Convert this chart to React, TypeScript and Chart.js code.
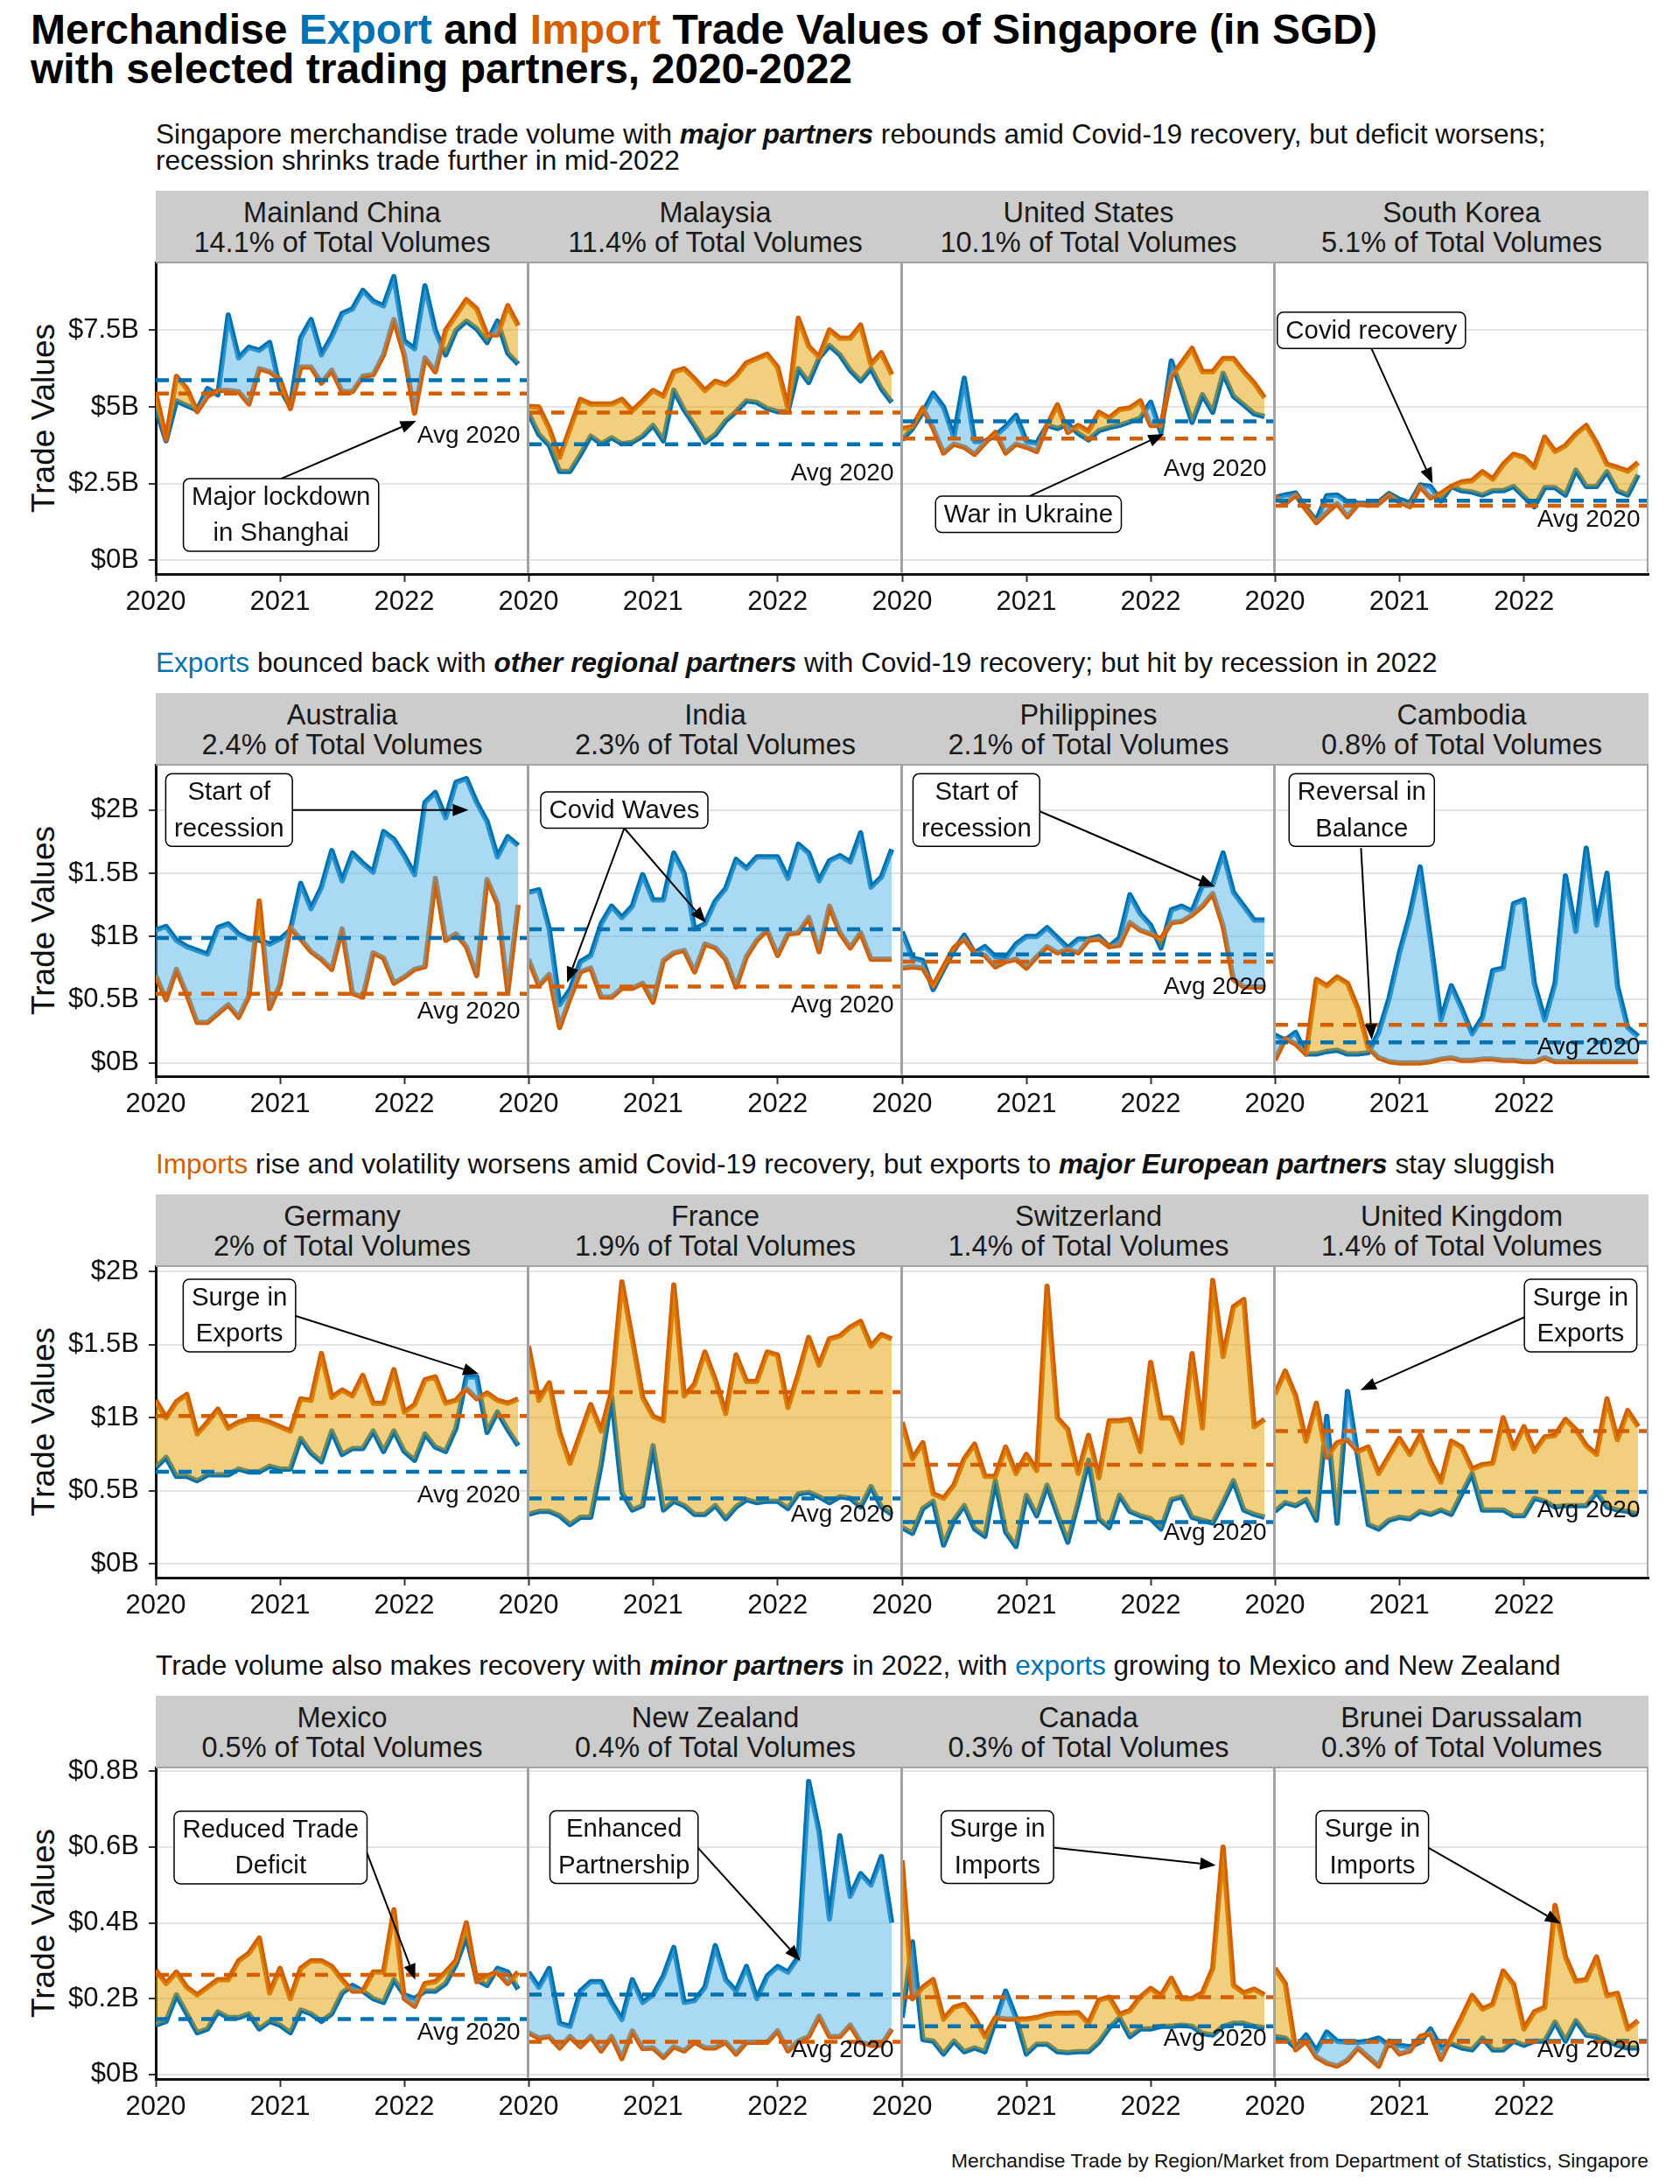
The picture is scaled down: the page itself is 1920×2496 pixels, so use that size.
import React, { useEffect, useRef } from 'react';
import { Chart, registerables } from 'chart.js';

Chart.register(...registerables);

const FONT = '"Liberation Sans", Arial, Helvetica, sans-serif';
const BLUE = '#0072B2';
const ORANGE = '#D55E00';
const BLUE_FILL = 'rgba(86,180,233,0.5)';
const ORANGE_FILL = 'rgba(230,159,0,0.5)';
const TEXT = '#111111';

// ---------- axes ----------
const yearTickMonths = [0, 12, 24];
const yearTickLabels = ['2020', '2021', '2022'];
const yTicksMajor = [0, 2.5, 5, 7.5];
const yTicksRegional = [0, 0.5, 1, 1.5, 2];
const yTicksEurope = [0, 0.5, 1, 1.5, 2];
const yTicksMinor = [0, 0.2, 0.4, 0.6, 0.8];

// ---------- data (SGD billions, monthly Jan 2020 - Dec 2022) ----------
const chinaExport = [4.95, 3.9, 5.2, 5.05, 4.9, 5.6, 5.4, 8.0, 6.6, 6.95, 6.85, 7.1, 5.6, 5.0, 7.25, 7.85, 6.7, 7.3, 8.05, 8.2, 8.8, 8.45, 8.3, 9.25, 7.15, 6.9, 8.95, 7.5, 6.7, 7.5, 7.8, 7.55, 7.1, 7.8, 6.75, 6.4];
const chinaImport = [5.45, 3.95, 6.0, 5.6, 4.85, 5.35, 5.54, 5.54, 5.5, 5.1, 6.25, 6.15, 5.9, 4.95, 6.3, 6.3, 5.78, 6.2, 5.5, 5.5, 6.0, 6.05, 6.7, 7.85, 6.7, 4.8, 6.6, 6.15, 7.5, 8.0, 8.5, 8.2, 7.35, 7.35, 8.3, 7.65];
const malaysiaExport = [4.8, 4.1, 3.75, 2.9, 2.9, 3.45, 4.05, 3.8, 4.0, 3.8, 3.85, 4.05, 4.4, 3.9, 5.55, 4.9, 4.4, 3.85, 4.1, 4.55, 4.85, 5.2, 5.15, 4.95, 4.85, 4.85, 6.25, 5.8, 6.6, 7.0, 6.7, 6.2, 5.85, 6.25, 5.6, 5.15];
const malaysiaImport = [5.02, 5.0, 4.3, 3.36, 4.3, 5.25, 5.1, 5.1, 5.1, 5.25, 4.88, 5.2, 5.54, 5.35, 6.15, 6.25, 5.92, 5.54, 5.84, 5.73, 6.01, 6.44, 6.58, 6.72, 6.3, 4.95, 7.89, 6.98, 6.63, 7.51, 7.24, 7.24, 7.67, 6.39, 6.77, 6.06];
const usExport = [3.93, 4.3, 4.83, 5.45, 5.0, 4.02, 5.94, 3.88, 3.88, 4.07, 4.36, 4.73, 3.88, 3.83, 4.4, 4.3, 4.45, 4.14, 3.93, 4.23, 4.33, 4.4, 4.52, 4.64, 5.16, 4.17, 6.5, 5.54, 4.5, 5.4, 4.83, 6.1, 5.35, 5.07, 4.78, 4.69];
const usImport = [4.3, 4.36, 4.97, 4.3, 3.5, 3.79, 3.69, 3.46, 3.83, 4.17, 3.5, 3.79, 3.69, 3.55, 4.4, 5.07, 4.17, 4.4, 4.21, 4.83, 4.64, 4.92, 4.97, 5.2, 4.4, 4.4, 6.01, 6.44, 6.91, 6.15, 6.15, 6.58, 6.58, 6.15, 5.78, 5.3];
const koreaExport = [2.05, 2.13, 2.2, 1.7, 1.3, 2.11, 2.13, 1.9, 1.87, 1.85, 1.9, 2.18, 1.99, 1.87, 2.46, 2.41, 1.94, 2.41, 2.27, 2.23, 2.13, 2.27, 2.27, 2.41, 2.08, 1.75, 2.37, 2.37, 2.13, 2.94, 2.41, 2.41, 2.89, 2.27, 2.13, 2.79];
const koreaImport = [2.08, 1.85, 2.13, 1.66, 1.23, 1.56, 1.85, 1.42, 1.83, 1.8, 1.85, 2.13, 1.9, 1.75, 2.41, 2.04, 2.18, 2.41, 2.56, 2.6, 2.89, 2.65, 3.13, 3.46, 3.36, 3.03, 4.02, 3.55, 3.74, 4.12, 4.4, 3.83, 3.13, 3.03, 2.91, 3.19];
const australiaExport = [1.05, 1.08, 0.97, 0.92, 0.89, 0.86, 1.07, 1.1, 1.02, 0.98, 0.97, 0.94, 0.98, 1.05, 1.42, 1.22, 1.39, 1.68, 1.44, 1.66, 1.58, 1.51, 1.83, 1.77, 1.64, 1.49, 2.06, 2.14, 1.94, 2.22, 2.25, 2.06, 1.91, 1.63, 1.79, 1.72];
const australiaImport = [0.69, 0.5, 0.74, 0.54, 0.32, 0.32, 0.39, 0.46, 0.36, 0.53, 1.28, 0.43, 0.62, 1.07, 0.98, 0.88, 0.82, 0.74, 1.06, 0.55, 0.52, 0.87, 0.83, 0.63, 0.68, 0.74, 0.76, 1.46, 0.97, 1.02, 0.92, 0.69, 1.45, 1.26, 0.56, 1.25];
const indiaExport = [1.35, 1.37, 1.06, 0.46, 0.58, 0.8, 0.85, 1.1, 1.24, 1.15, 1.24, 1.49, 1.29, 1.29, 1.66, 1.5, 1.06, 1.1, 1.28, 1.38, 1.61, 1.54, 1.63, 1.63, 1.63, 1.46, 1.73, 1.66, 1.44, 1.6, 1.64, 1.59, 1.82, 1.39, 1.47, 1.69];
const indiaImport = [0.82, 0.61, 0.7, 0.28, 0.51, 0.72, 0.75, 0.52, 0.52, 0.59, 0.59, 0.63, 0.48, 0.81, 0.87, 0.89, 0.72, 0.94, 0.91, 0.82, 0.6, 0.84, 0.97, 1.05, 0.85, 1.02, 1.03, 1.15, 0.88, 1.24, 1.03, 0.91, 1.03, 0.82, 0.82, 0.82];
const philippinesExport = [1.04, 0.83, 0.81, 0.58, 0.74, 0.89, 1.01, 0.87, 0.92, 0.84, 0.83, 0.94, 1.0, 1.0, 1.07, 0.99, 0.91, 0.98, 0.98, 1.0, 0.92, 0.99, 1.33, 1.18, 1.09, 0.91, 1.21, 1.24, 1.2, 1.4, 1.41, 1.66, 1.35, 1.24, 1.13, 1.13];
const philippinesImport = [0.75, 0.76, 0.75, 0.61, 0.76, 0.91, 0.98, 0.87, 0.85, 0.76, 0.8, 0.82, 0.75, 0.84, 0.92, 0.87, 0.9, 0.87, 0.97, 0.98, 0.92, 0.93, 1.11, 1.05, 1.02, 0.98, 1.11, 1.12, 1.17, 1.24, 1.34, 1.08, 0.66, 0.6, 0.6, 0.6];
const cambodiaExport = [0.22, 0.18, 0.24, 0.07, 0.07, 0.09, 0.1, 0.07, 0.07, 0.08, 0.24, 0.51, 0.87, 1.17, 1.55, 0.97, 0.34, 0.61, 0.43, 0.23, 0.36, 0.73, 0.75, 1.26, 1.29, 0.63, 0.34, 0.63, 1.48, 1.04, 1.7, 1.09, 1.5, 0.61, 0.28, 0.21];
const cambodiaImport = [0.02, 0.19, 0.15, 0.07, 0.66, 0.61, 0.68, 0.63, 0.43, 0.12, 0.04, 0.01, 0.0, 0.0, 0.0, 0.01, 0.03, 0.04, 0.02, 0.02, 0.03, 0.03, 0.02, 0.02, 0.01, 0.01, 0.04, 0.01, 0.01, 0.01, 0.01, 0.01, 0.01, 0.01, 0.01, 0.01];
const germanyExport = [0.66, 0.73, 0.6, 0.6, 0.57, 0.61, 0.61, 0.61, 0.65, 0.63, 0.63, 0.67, 0.65, 0.65, 0.86, 0.76, 0.7, 0.91, 0.75, 0.79, 0.79, 0.91, 0.77, 0.91, 0.77, 0.71, 0.89, 0.8, 0.77, 0.93, 1.28, 1.28, 0.9, 1.04, 0.92, 0.81];
const germanyImport = [1.12, 1.0, 1.11, 1.16, 0.89, 0.97, 1.06, 0.93, 0.97, 0.99, 0.99, 0.97, 0.94, 0.91, 1.13, 1.12, 1.44, 1.14, 1.19, 1.15, 1.29, 1.1, 1.1, 1.33, 1.04, 1.09, 1.26, 1.28, 1.1, 1.12, 1.2, 1.13, 1.17, 1.12, 1.1, 1.13];
const franceExport = [0.34, 0.36, 0.36, 0.33, 0.27, 0.32, 0.32, 0.68, 1.15, 0.49, 0.37, 0.4, 0.81, 0.37, 0.43, 0.4, 0.34, 0.34, 0.4, 0.31, 0.39, 0.44, 0.42, 0.43, 0.43, 0.38, 0.48, 0.49, 0.46, 0.42, 0.46, 0.45, 0.39, 0.53, 0.39, 0.34];
const franceImport = [1.49, 1.12, 1.24, 0.9, 0.69, 0.89, 1.09, 0.91, 1.18, 1.93, 1.54, 1.14, 1.01, 0.98, 1.91, 1.15, 1.23, 1.45, 1.26, 1.03, 1.43, 1.25, 1.25, 1.45, 1.43, 1.07, 1.3, 1.55, 1.36, 1.54, 1.56, 1.62, 1.66, 1.49, 1.57, 1.54];
const switzerlandExport = [0.25, 0.21, 0.38, 0.43, 0.13, 0.3, 0.4, 0.24, 0.19, 0.57, 0.22, 0.12, 0.47, 0.33, 0.54, 0.34, 0.15, 0.42, 0.71, 0.31, 0.25, 0.47, 0.36, 0.33, 0.31, 0.24, 0.44, 0.46, 0.32, 0.3, 0.28, 0.42, 0.57, 0.37, 0.34, 0.32];
const switzerlandImport = [0.97, 0.72, 0.83, 0.48, 0.45, 0.54, 0.72, 0.82, 0.6, 0.6, 0.8, 0.62, 0.75, 0.64, 1.9, 1.0, 0.92, 0.62, 0.88, 0.59, 0.98, 0.98, 0.99, 0.77, 1.38, 1.0, 1.0, 0.83, 1.44, 0.93, 1.94, 1.42, 1.76, 1.81, 0.94, 0.99];
const ukExport = [0.36, 0.42, 0.4, 0.44, 0.3, 1.01, 0.28, 1.18, 0.73, 0.27, 0.24, 0.3, 0.32, 0.31, 0.36, 0.34, 0.37, 0.34, 0.48, 0.62, 0.37, 0.37, 0.37, 0.33, 0.33, 0.45, 0.43, 0.39, 0.4, 0.4, 0.4, 0.49, 0.39, 0.37, 0.36, 0.34];
const ukImport = [1.16, 1.32, 1.15, 0.84, 1.1, 0.73, 0.83, 0.85, 0.77, 0.8, 0.62, 0.74, 0.86, 0.75, 0.88, 0.7, 0.56, 0.84, 0.8, 0.65, 0.68, 0.69, 1.0, 0.79, 0.94, 0.77, 0.87, 0.88, 0.99, 0.92, 0.81, 0.75, 1.13, 0.85, 1.05, 0.94];
const mexicoExport = [0.13, 0.14, 0.21, 0.16, 0.11, 0.12, 0.165, 0.15, 0.15, 0.16, 0.12, 0.14, 0.13, 0.11, 0.17, 0.16, 0.14, 0.16, 0.215, 0.235, 0.22, 0.2, 0.19, 0.25, 0.21, 0.2, 0.22, 0.22, 0.24, 0.29, 0.365, 0.25, 0.235, 0.28, 0.27, 0.225];
const mexicoImport = [0.275, 0.24, 0.27, 0.23, 0.21, 0.23, 0.25, 0.25, 0.3, 0.32, 0.36, 0.215, 0.28, 0.2, 0.28, 0.3, 0.3, 0.285, 0.25, 0.22, 0.22, 0.27, 0.27, 0.435, 0.2, 0.18, 0.24, 0.245, 0.27, 0.3, 0.4, 0.245, 0.26, 0.27, 0.24, 0.27];
const nzExport = [0.27, 0.23, 0.28, 0.135, 0.127, 0.22, 0.245, 0.245, 0.19, 0.145, 0.25, 0.19, 0.21, 0.26, 0.335, 0.19, 0.195, 0.23, 0.34, 0.25, 0.22, 0.285, 0.2, 0.26, 0.285, 0.27, 0.31, 0.773, 0.64, 0.41, 0.63, 0.47, 0.53, 0.5, 0.575, 0.4];
const nzImport = [0.11, 0.096, 0.1, 0.07, 0.1, 0.073, 0.1, 0.062, 0.1, 0.042, 0.115, 0.068, 0.07, 0.045, 0.073, 0.062, 0.085, 0.07, 0.07, 0.085, 0.054, 0.085, 0.085, 0.085, 0.115, 0.062, 0.088, 0.1, 0.154, 0.1, 0.1, 0.13, 0.085, 0.077, 0.077, 0.12];
const canadaExport = [0.15, 0.35, 0.092, 0.088, 0.054, 0.088, 0.06, 0.07, 0.06, 0.14, 0.22, 0.15, 0.054, 0.08, 0.08, 0.06, 0.058, 0.06, 0.06, 0.085, 0.123, 0.15, 0.1, 0.12, 0.12, 0.127, 0.127, 0.13, 0.127, 0.108, 0.104, 0.127, 0.135, 0.135, 0.127, 0.123];
const canadaImport = [0.565, 0.2, 0.23, 0.25, 0.146, 0.177, 0.185, 0.15, 0.1, 0.15, 0.146, 0.146, 0.146, 0.15, 0.158, 0.162, 0.162, 0.163, 0.135, 0.196, 0.204, 0.158, 0.169, 0.204, 0.227, 0.208, 0.254, 0.2, 0.2, 0.215, 0.28, 0.6, 0.235, 0.215, 0.225, 0.21];
const bruneiExport = [0.1, 0.096, 0.07, 0.104, 0.062, 0.112, 0.088, 0.085, 0.085, 0.088, 0.096, 0.077, 0.077, 0.073, 0.085, 0.12, 0.07, 0.081, 0.07, 0.065, 0.096, 0.065, 0.065, 0.088, 0.077, 0.088, 0.088, 0.138, 0.088, 0.142, 0.104, 0.1, 0.088, 0.077, 0.07, 0.07];
const bruneiImport = [0.28, 0.24, 0.065, 0.088, 0.046, 0.03, 0.022, 0.038, 0.07, 0.046, 0.022, 0.088, 0.054, 0.062, 0.1, 0.108, 0.04, 0.096, 0.15, 0.208, 0.173, 0.185, 0.273, 0.238, 0.12, 0.165, 0.177, 0.446, 0.31, 0.246, 0.25, 0.31, 0.208, 0.214, 0.12, 0.142];

const partnerNames = ['Mainland China', 'Malaysia', 'United States', 'South Korea', 'Australia', 'India', 'Philippines', 'Cambodia', 'Germany', 'France', 'Switzerland', 'United Kingdom', 'Mexico', 'New Zealand', 'Canada', 'Brunei Darussalam'];
const partnerShares = ['14.1%', '11.4%', '10.1%', '5.1%', '2.4%', '2.3%', '2.1%', '0.8%', '2%', '1.9%', '1.4%', '1.4%', '0.5%', '0.4%', '0.3%', '0.3%'];
const exportSeries = [chinaExport, malaysiaExport, usExport, koreaExport, australiaExport, indiaExport, philippinesExport, cambodiaExport, germanyExport, franceExport, switzerlandExport, ukExport, mexicoExport, nzExport, canadaExport, bruneiExport];
const importSeries = [chinaImport, malaysiaImport, usImport, koreaImport, australiaImport, indiaImport, philippinesImport, cambodiaImport, germanyImport, franceImport, switzerlandImport, ukImport, mexicoImport, nzImport, canadaImport, bruneiImport];

// ---------- annotation boxes (data coords: month index, SGD B) ----------
type Note = { lines: string[]; x: number; y: number; arrows: number[][] };
const notes: Record<number, Note> = {
  0: { lines: ['Major lockdown', 'in Shanghai'], x: 12.1, y: 1.48, arrows: [[12.1, 2.66, 25.15, 4.55]] },
  2: { lines: ['War in Ukraine'], x: 12.2, y: 1.5, arrows: [[12.2, 2.08, 25.3, 4.12]] },
  3: { lines: ['Covid recovery'], x: 9.3, y: 7.5, arrows: [[9.3, 6.91, 15.2, 2.51]] },
  4: { lines: ['Start of', 'recession'], x: 7.08, y: 2.0, arrows: [[13.2, 2.0, 30.2, 2.0]] },
  5: { lines: ['Covid Waves'], x: 9.23, y: 2.0, arrows: [[9.23, 1.857, 3.72, 0.635], [9.23, 1.857, 17.1, 1.109]] },
  6: { lines: ['Start of', 'recession'], x: 7.17, y: 2.0, arrows: [[13.3, 1.99, 30.2, 1.394]] },
  7: { lines: ['Reversal in', 'Balance'], x: 8.37, y: 2.0, arrows: [[8.3, 1.7, 9.33, 0.183]] },
  8: { lines: ['Surge in', 'Exports'], x: 8.08, y: 1.7, arrows: [[13.4, 1.7, 31.2, 1.3]] },
  11: { lines: ['Surge in', 'Exports'], x: 29.46, y: 1.7, arrows: [[24.4, 1.7, 8.25, 1.19]] },
  12: { lines: ['Reduced Trade', 'Deficit'], x: 11.09, y: 0.599, arrows: [[20.2, 0.599, 25.06, 0.25]] },
  13: { lines: ['Enhanced', 'Partnership'], x: 9.2, y: 0.6, arrows: [[16.3, 0.599, 26.2, 0.3]] },
  14: { lines: ['Surge in', 'Imports'], x: 9.2, y: 0.6, arrows: [[14.55, 0.599, 30.3, 0.552]] },
  15: { lines: ['Surge in', 'Imports'], x: 9.39, y: 0.6, arrows: [[14.74, 0.599, 27.55, 0.398]] },
};

// ---------- layout ----------
const PANEL_X = [178, 604, 1031, 1457, 1884];
const PLOT_TOP = [300, 874, 1447, 2020];
const PLOT_H = 356;
const STRIP_H = 82;
const PAD_X = 50;
const PAD_TOP = 26;
const X_AXIS_H = 60;
const Y_AXIS_W = 178;

const rowAxes = [
  { min: -0.443, max: 9.71, ticks: yTicksMajor },
  { min: -0.106, max: 2.359, ticks: yTicksRegional },
  { min: -0.093, max: 2.038, ticks: yTicksEurope },
  { min: -0.012, max: 0.81, ticks: yTicksMinor },
];

const mean = (a: number[]) => a.reduce((s, v) => s + v, 0) / a.length;
const pts = (a: number[]) => a.map((v, i) => ({ x: i, y: v }));

function drawArrow(ctx: CanvasRenderingContext2D, x1: number, y1: number, x2: number, y2: number) {
  const ang = Math.atan2(y2 - y1, x2 - x1);
  const L = 18, W = 7;
  const bx = x2 - L * Math.cos(ang), by = y2 - L * Math.sin(ang);
  ctx.beginPath();
  ctx.moveTo(x1, y1);
  ctx.lineTo(bx, by);
  ctx.stroke();
  ctx.beginPath();
  ctx.moveTo(x2, y2);
  ctx.lineTo(bx + W * Math.sin(ang), by - W * Math.cos(ang));
  ctx.lineTo(bx - W * Math.sin(ang), by + W * Math.cos(ang));
  ctx.closePath();
  ctx.fill();
}

function PanelChart({ idx }: { idx: number }) {
  const ref = useRef<HTMLCanvasElement>(null);
  const r = Math.floor(idx / 4);
  const c = idx % 4;
  const padL = c === 0 ? 0 : PAD_X;
  const yW = c === 0 ? Y_AXIS_W : 0;
  const pw = PANEL_X[c + 1] - PANEL_X[c];
  const left = PANEL_X[c] - yW - padL;
  const top = PLOT_TOP[r] - PAD_TOP;
  const w = pw + yW + padL + PAD_X;
  const h = PAD_TOP + PLOT_H + X_AXIS_H;

  useEffect(() => {
    const exp = exportSeries[idx];
    const imp = importSeries[idx];
    const avgE = mean(exp.slice(0, 12));
    const avgI = mean(imp.slice(0, 12));
    const axis = rowAxes[r];
    const note = notes[idx];

    const framePlugin = {
      id: 'frame',
      afterDraw(chart: any) {
        const { ctx, chartArea } = chart;
        const { left: L, right: R, top: T, bottom: B } = chartArea;
        ctx.save();
        ctx.strokeStyle = '#A3A3A3';
        ctx.lineWidth = 2;
        ctx.beginPath();
        ctx.moveTo(L, T);
        ctx.lineTo(R, T);
        ctx.moveTo(R - 1, T);
        ctx.lineTo(R - 1, B - 1.5);
        if (c > 0) {
          ctx.moveTo(L, T);
          ctx.lineTo(L, B - 1.5);
        }
        ctx.stroke();
        ctx.restore();
      },
    };

    const notePlugin = {
      id: 'notes',
      afterDatasetsDraw(chart: any) {
        const { ctx } = chart;
        const xs = chart.scales.x;
        const ys = chart.scales.y;
        ctx.save();
        ctx.font = `28px ${FONT}`;
        ctx.fillStyle = TEXT;
        ctx.textAlign = 'right';
        ctx.textBaseline = 'middle';
        ctx.fillText('Avg 2020', xs.getPixelForValue(35.2), ys.getPixelForValue(0.745 * Math.min(avgE, avgI)));
        if (note) {
          ctx.strokeStyle = '#000';
          ctx.fillStyle = '#000';
          ctx.lineWidth = 2;
          for (const a of note.arrows) {
            drawArrow(ctx, xs.getPixelForValue(a[0]), ys.getPixelForValue(a[1]), xs.getPixelForValue(a[2]), ys.getPixelForValue(a[3]));
          }
          ctx.font = `29.4px ${FONT}`;
          const lh = 41.5;
          const tw = Math.max(...note.lines.map((l) => ctx.measureText(l).width));
          const bw = tw + 19;
          const bh = note.lines.length * lh;
          const cx = xs.getPixelForValue(note.x);
          const cy = ys.getPixelForValue(note.y);
          ctx.beginPath();
          ctx.roundRect(cx - bw / 2, cy - bh / 2, bw, bh, 7);
          ctx.fillStyle = '#FFFFFF';
          ctx.fill();
          ctx.lineWidth = 1.5;
          ctx.strokeStyle = '#000';
          ctx.stroke();
          ctx.fillStyle = TEXT;
          ctx.textAlign = 'center';
          ctx.textBaseline = 'middle';
          note.lines.forEach((l, i) => ctx.fillText(l, cx, cy - bh / 2 + lh * (i + 0.5) + 1));
        }
        ctx.restore();
      },
    };

    const chart = new Chart(ref.current as HTMLCanvasElement, {
      type: 'line',
      data: {
        datasets: [
          { label: 'Export', data: pts(exp), borderColor: BLUE, borderWidth: 6, pointRadius: 0, fill: false, tension: 0, borderJoinStyle: 'round', order: 5 } as any,
          { label: 'Import', data: pts(imp), borderColor: ORANGE, borderWidth: 6, pointRadius: 0, fill: false, tension: 0, borderJoinStyle: 'round', order: 4 } as any,
          { label: 'gapE', data: pts(exp), borderColor: 'rgba(0,0,0,0)', borderWidth: 1, pointRadius: 0, tension: 0, fill: { target: 3, above: BLUE_FILL, below: ORANGE_FILL }, order: 3 } as any,
          { label: 'gapI', data: pts(imp), borderColor: 'rgba(0,0,0,0)', borderWidth: 1, pointRadius: 0, tension: 0, fill: false, order: 2 } as any,
          { label: 'avgE', data: [{ x: 0, y: avgE }, { x: 36, y: avgE }], borderColor: BLUE, borderWidth: 4.5, borderDash: [15, 11], pointRadius: 0, fill: false, order: 1 } as any,
          { label: 'avgI', data: [{ x: 0, y: avgI }, { x: 36, y: avgI }], borderColor: ORANGE, borderWidth: 4.5, borderDash: [15, 11], pointRadius: 0, fill: false, order: 0 } as any,
        ],
      },
      options: {
        responsive: false,
        animation: false,
        devicePixelRatio: 1,
        events: [],
        layout: { padding: { left: padL, right: PAD_X, top: PAD_TOP, bottom: 0 } },
        plugins: {
          legend: { display: false },
          tooltip: { enabled: false },
          filler: { drawTime: 'beforeDatasetDraw', propagate: false },
        },
        scales: {
          x: {
            type: 'linear',
            min: 0,
            max: 36,
            afterBuildTicks: (s: any) => { s.ticks = yearTickMonths.map((v) => ({ value: v })); },
            afterFit: (s: any) => { s.height = X_AXIS_H; s.paddingLeft = 0; s.paddingRight = 0; },
            ticks: {
              autoSkip: false,
              maxRotation: 0,
              padding: 5,
              color: TEXT,
              font: { family: FONT, size: 31 },
              callback: (v: any) => { const k = yearTickMonths.indexOf(Number(v)); return k >= 0 ? yearTickLabels[k] : ''; },
            },
            grid: { drawOnChartArea: false, drawTicks: true, tickLength: 9, tickColor: '#333', tickWidth: 2 },
            border: { display: true, color: '#111', width: 3 },
          },
          y: {
            type: 'linear',
            min: axis.min,
            max: axis.max,
            afterBuildTicks: (s: any) => { s.ticks = axis.ticks.map((v) => ({ value: v })); },
            afterFit: (s: any) => { s.width = yW; s.paddingTop = 0; s.paddingBottom = 0; },
            ticks: {
              display: c === 0,
              padding: 11,
              color: TEXT,
              font: { family: FONT, size: 31 },
              callback: (v: any) => `$${v}B`,
            },
            grid: { color: '#E4E4E4', lineWidth: 2, drawTicks: c === 0, tickLength: 8, tickColor: '#333', tickWidth: 2 },
            border: { display: c === 0, color: '#111', width: 3 },
          },
        },
      } as any,
      plugins: [framePlugin as any, notePlugin as any],
    });
    return () => chart.destroy();
  }, [idx]);

  return (
    <canvas
      ref={ref}
      width={w}
      height={h}
      style={{ position: 'absolute', left, top, width: w, height: h }}
    />
  );
}

const bi = (t: string) => <span style={{ fontWeight: 'bold', fontStyle: 'italic' }}>{t}</span>;
const col = (t: string, c: string) => <span style={{ color: c }}>{t}</span>;

const subtitles = [
  <>Singapore merchandise trade volume with {bi('major partners')} rebounds amid Covid-19 recovery, but deficit worsens;<br />recession shrinks trade further in mid-2022</>,
  <>{col('Exports', BLUE)} bounced back with {bi('other regional partners')} with Covid-19 recovery; but hit by recession in 2022</>,
  <>{col('Imports', ORANGE)} rise and volatility worsens amid Covid-19 recovery, but exports to {bi('major European partners')} stay sluggish</>,
  <>Trade volume also makes recovery with {bi('minor partners')} in 2022, with {col('exports', BLUE)} growing to Mexico and New Zealand</>,
];
const subtitleLines = [2, 1, 1, 1];

export default function App() {
  const stripTops = PLOT_TOP.map((t) => t - STRIP_H);
  return (
    <div style={{ position: 'absolute', left: 0, top: 0, width: 1920, height: 2496, background: '#FFFFFF', fontFamily: FONT, color: TEXT, overflow: 'hidden' }}>
      <div style={{ position: 'absolute', left: 35, top: 11, fontSize: 48, lineHeight: '45px', fontWeight: 'bold', color: '#000', whiteSpace: 'nowrap' }}>
        Merchandise {col('Export', BLUE)} and {col('Import', ORANGE)} Trade Values of Singapore (in SGD)<br />
        with selected trading partners, 2020-2022
      </div>

      {subtitles.map((s, r) => (
        <div key={'sub' + r} style={{ position: 'absolute', left: 178, top: stripTops[r] - 50 - 30 * (subtitleLines[r] - 1), fontSize: 31.6, lineHeight: '30px', whiteSpace: 'nowrap' }}>
          {s}
        </div>
      ))}

      {partnerNames.map((n, i) => {
        const r = Math.floor(i / 4);
        const c = i % 4;
        return (
          <div key={'strip' + i} style={{ position: 'absolute', left: PANEL_X[c], top: stripTops[r], width: PANEL_X[c + 1] - PANEL_X[c], height: STRIP_H, boxSizing: 'border-box', paddingTop: 8, background: '#CCCCCC', textAlign: 'center', fontSize: 32.5, lineHeight: '34px', color: '#1A1A1A', whiteSpace: 'nowrap' }}>
            {n}<br />{partnerShares[i]} of Total Volumes
          </div>
        );
      })}

      {PLOT_TOP.map((t, r) => (
        <div key={'yt' + r} style={{ position: 'absolute', left: 49, top: t + PLOT_H / 2, transform: 'translate(-50%, -50%) rotate(-90deg)', fontSize: 37, lineHeight: 1, whiteSpace: 'nowrap' }}>
          Trade Values
        </div>
      ))}

      {partnerNames.map((_, i) => <PanelChart key={'p' + i} idx={i} />)}

      <div style={{ position: 'absolute', right: 1920 - 1884, top: 2456, fontSize: 22.8, lineHeight: '26px', whiteSpace: 'nowrap' }}>
        Merchandise Trade by Region/Market from Department of Statistics, Singapore
      </div>
    </div>
  );
}
